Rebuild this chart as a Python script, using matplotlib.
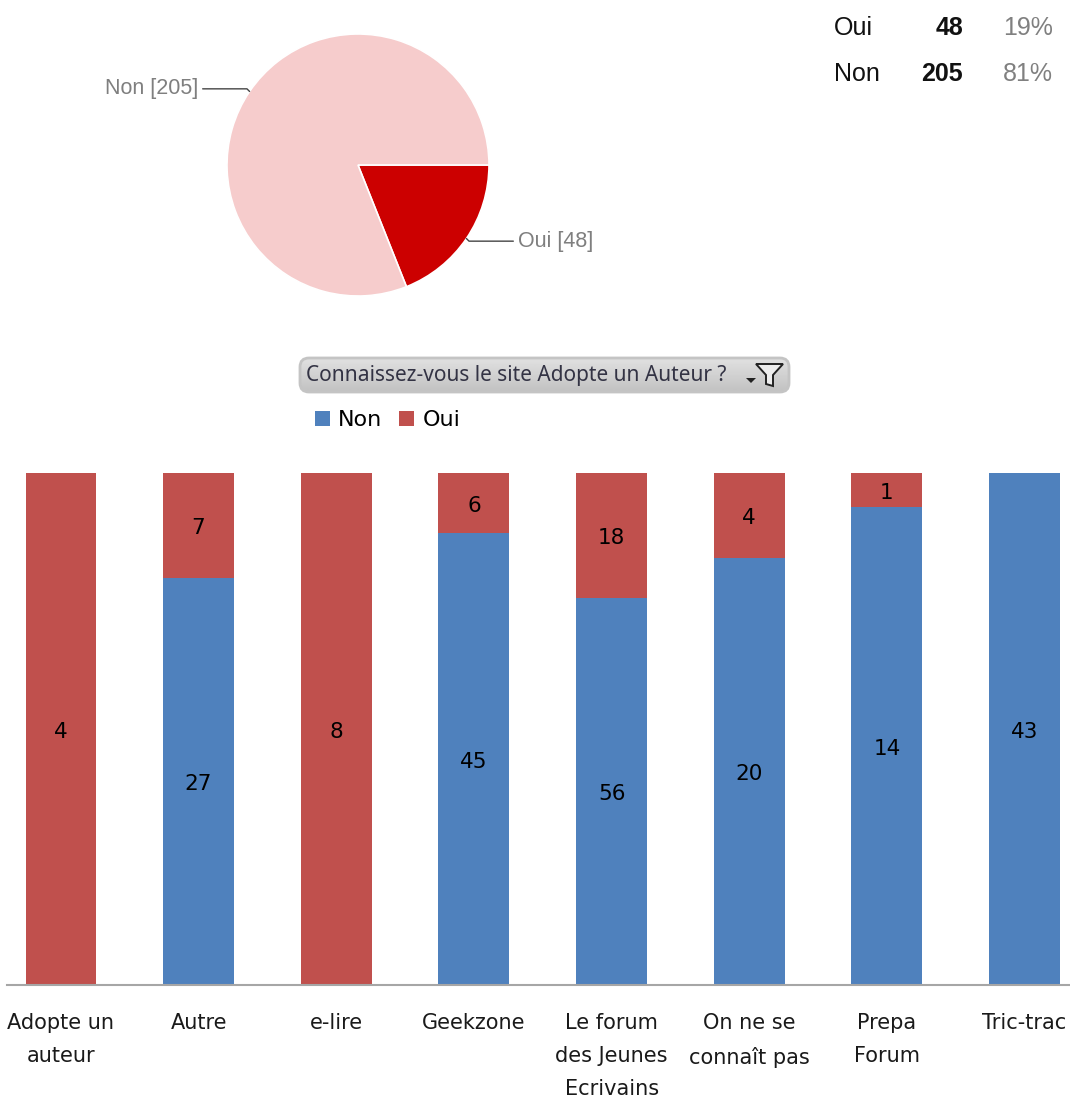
import numpy as np
import matplotlib
matplotlib.use("Agg")
import matplotlib.pyplot as plt
from matplotlib.patches import FancyBboxPatch, Polygon

W = 1070
H = 1097

pie_labels = ["Oui", "Non"]
pie_values = [48, 205]
pie_percents = ["19%", "81%"]
pie_colors = ["#CC0000", "#F6CCCC"]

sites = ["Adopte un\nauteur", "Autre", "e-lire", "Geekzone",
         "Le forum\ndes Jeunes\nEcrivains", "On ne se\nconnaît pas",
         "Prepa\nForum", "Tric-trac"]
non = np.array([0, 27, 0, 45, 56, 20, 14, 43])
oui = np.array([4, 7, 8, 6, 18, 4, 1, 0])

blue = "#4F81BD"
red = "#C0504D"


def px_axes(fig, left, top, right, bottom):
    return fig.add_axes([left / W, 1 - bottom / H, (right - left) / W, (bottom - top) / H])


fig = plt.figure(figsize=(W / 100, H / 100), dpi=100)

# pie
ax_pie = px_axes(fig, 227, 34, 489, 296)
wedges, _ = ax_pie.pie(pie_values, colors=pie_colors, startangle=0, counterclock=False,
                       radius=1, wedgeprops={"edgecolor": "white", "linewidth": 1.2})
ax_pie.set_xlim(-1, 1)
ax_pie.set_ylim(-1, 1)

for w, name, val in zip(wedges, pie_labels, pie_values):
    ang = np.deg2rad((w.theta1 + w.theta2) / 2)
    x = np.cos(ang)
    y = np.sin(ang)
    side = 1 if x > 0 else -1
    x_text = x + side * 0.39
    y_text = y + (-0.02 if side > 0 else 0.02)
    ax_pie.annotate(f"{name} [{val}]", xy=(x, y), xytext=(x_text, y_text),
                    ha="left" if side > 0 else "right", va="center",
                    fontsize=15.5, color="#7F7F7F", family="Liberation Sans",
                    annotation_clip=False,
                    arrowprops={"arrowstyle": "-", "color": "#444444", "lw": 1,
                                "shrinkA": 1, "shrinkB": 0,
                                "connectionstyle": "angle,angleA=0,angleB=-45,rad=0"})

# stacked bars, everything is a share of the site's total
ax = px_axes(fig, 7, 473, W, 985)
x_pos = np.arange(len(sites))
total = non + oui
share_non = non / total
share_oui = oui / total
bars_non = ax.bar(x_pos, share_non, width=0.515, color=blue, label="Non")
bars_oui = ax.bar(x_pos, share_oui, width=0.515, bottom=share_non, color=red, label="Oui")
lab1 = ax.bar_label(bars_non, labels=[str(v) if v else "" for v in non], label_type="center",
                    fontsize=15.5, color="black")
lab2 = ax.bar_label(bars_oui, labels=[str(v) if v else "" for v in oui], label_type="center",
                    fontsize=15.5, color="black")
for t in list(lab1) + list(lab2):
    t.xyann = (0, -2)
ax.set_xlim(-0.392, 7.33)
ax.set_ylim(0, 1)
ax.set_yticks([])
ax.set_xticks(x_pos)
ax.set_xticklabels(sites, fontsize=15, color="#1A1A1A", linespacing=1.82)
ax.tick_params(axis="x", length=0, pad=20)
for s in ["top", "left", "right"]:
    ax.spines[s].set_visible(False)
ax.spines["bottom"].set_color("#A6A6A6")
ax.spines["bottom"].set_linewidth(1.5)

# overlay in pixel coordinates for the table and the filter button
ov = fig.add_axes([0, 0, 1, 1], zorder=-1)
ov.set_xlim(0, W)
ov.set_ylim(H, 0)
ov.axis("off")

for name, val, pct, y in zip(pie_labels, pie_values, pie_percents, [28, 74]):
    ov.text(834, y, name, fontsize=18, family="Liberation Sans", va="center", color="#111111")
    ov.text(963, y, str(val), fontsize=18, family="Liberation Sans", va="center", ha="right",
            weight="bold", color="#111111")
    ov.text(1053, y, pct, fontsize=18, family="Liberation Sans", va="center", ha="right",
            color="#808080")

btn = FancyBboxPatch((300, 358), 489, 34, boxstyle="round,pad=0,rounding_size=9",
                     mutation_aspect=1, facecolor="none", edgecolor="#C4C4C4", lw=2, zorder=3)
ov.add_patch(btn)
grad = np.linspace(0.88, 0.76, 40).reshape(-1, 1)
img = ov.imshow(grad, extent=(300, 789, 392, 358), cmap="gray", vmin=0, vmax=1,
                aspect="auto", zorder=2)
img.set_clip_path(btn)
ov.set_xlim(0, W)
ov.set_ylim(H, 0)
ov.text(306, 375.5, "Connaissez-vous le site Adopte un Auteur ?", fontsize=15,
        family="Noto Sans", va="center", color="#333344", zorder=4)
ov.add_patch(Polygon([(756, 364), (783, 364), (773, 375), (773, 386), (766, 384), (766, 375)],
                     closed=True, facecolor="#EDEDED", edgecolor="#222222", lw=1.4, zorder=4))
ov.add_patch(Polygon([(746, 378), (756, 378), (751, 383)], closed=True,
                     facecolor="#222222", edgecolor="none", zorder=4))

handles = [bars_non[0], bars_oui[0]]
fig.legend(handles, ["Non", "Oui"], loc="center left", bbox_to_anchor=(297 / W, 1 - 420 / H),
           ncol=2, frameon=False, fontsize=16, handlelength=0.68, handleheight=0.68,
           handletextpad=0.36, columnspacing=0.77, borderpad=0.3)

fig.savefig("out.png", dpi=100)
